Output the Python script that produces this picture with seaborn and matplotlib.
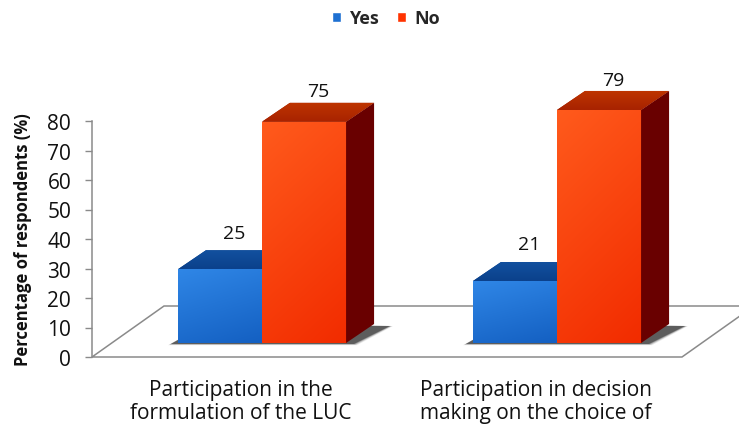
import numpy as np
import pandas as pd
import matplotlib
matplotlib.use("Agg")
import matplotlib.pyplot as plt
from matplotlib.patches import Polygon, Patch
from matplotlib.colors import LinearSegmentedColormap
import seaborn as sns

# ---- data -------------------------------------------------------------
items = ["Participation in the\nformulation of the LUC",
         "Participation in decision\nmaking on the choice of"]
responses = ["Yes", "No"]
yes_pct = [25, 21]
no_pct = [75, 79]
y_ticks = list(range(0, 81, 10))

df = pd.DataFrame({
    "item": items * 2,
    "response": ["Yes"] * len(items) + ["No"] * len(items),
    "pct": yes_pct + no_pct,
})

# ---- style ------------------------------------------------------------
sns.set_theme(style="white")
plt.rcParams["font.family"] = ["Open Sans", "DejaVu Sans"]

W, H, DPI = 739, 427, 100
fig = plt.figure(figsize=(W / DPI, H / DPI), dpi=DPI)
fig.patch.set_facecolor("white")

# pseudo-3D geometry (pixels, measured from the top-left of the canvas)
BASE_PY = 344          # baseline of the bar front faces
PX_PER_PCT = 2.95      # vertical scale
CAT0_PX, CAT_STEP = 262, 295
DEPTH = (28, 19)       # bar depth vector (right, up)
FLOOR_DEPTH = (72, 51)
FLOOR_FRONT_PY = 358
FLOOR_LEFT_PX, FLOOR_RIGHT_PX = 92, 682


def dx(p):
    return p / CAT_STEP


def dy(p):
    return p / PX_PER_PCT


def px2x(p):
    return (p - CAT0_PX) / CAT_STEP


def py2y(p):
    return (BASE_PY - p) / PX_PER_PCT


# ---- main axes holding the bars ---------------------------------------
ax = fig.add_axes([0, 0, 1, 1])
front_colors = {"Yes": "#1e70d2", "No": "#ff3300"}
sns.barplot(data=df, x="item", y="pct", hue="response", hue_order=responses,
            palette=front_colors, width=0.57, saturation=1, ax=ax,
            legend=False, linewidth=0, zorder=3)
ax.set_xlim(px2x(0), px2x(W))
ax.set_ylim(py2y(H), py2y(0))
ax.axis("off")

# floor
fx0, fx1 = px2x(FLOOR_LEFT_PX), px2x(FLOOR_RIGHT_PX)
fy0 = py2y(FLOOR_FRONT_PY)
fdx, fdy = dx(FLOOR_DEPTH[0]), dy(FLOOR_DEPTH[1])
ax.add_patch(Polygon([(fx0, fy0), (fx1, fy0), (fx1 + fdx, fy0 + fdy), (fx0 + fdx, fy0 + fdy)],
                     closed=True, facecolor="white", edgecolor="#8a8a8a", lw=1.1,
                     zorder=1, clip_on=False))

ddx, ddy = dx(DEPTH[0]), dy(DEPTH[1])

# soft shadows cast on the floor by each pair of bars
bars_yes, bars_no = ax.containers[0], ax.containers[1]
for by, bn in zip(bars_yes, bars_no):
    x0 = by.get_x()
    x1 = bn.get_x() + bn.get_width()
    for k, a in enumerate([0.08, 0.14, 0.22, 0.40]):
        grow = 3 - k
        ax.add_patch(Polygon([(x0 - dx(7 + grow), dy(-1 - grow * 0.4)),
                              (x1 + dx(8 + grow), dy(-1 - grow * 0.4)),
                              (x1 + ddx + dx(16 + grow), ddy - dy(2)),
                              (x0 + ddx, ddy)],
                             closed=True, facecolor="black", edgecolor="none",
                             alpha=a, zorder=2))

face_styles = {
    "Yes": dict(top="#0b418c", side="#08306a", light="#2f86e6", dark="#1460c2"),
    "No": dict(top="#a82300", side="#690000", light="#ff5a1c", dark="#f22c00"),
}
top_light = {"Yes": "#12509e", "No": "#bd3300"}

for cont, resp in zip(ax.containers, responses):
    st = face_styles[resp]
    cmap = LinearSegmentedColormap.from_list(resp, [st["dark"], st["light"]])
    for bar in cont:
        x0, w, h = bar.get_x(), bar.get_width(), bar.get_height()
        # gradient on the front face
        yy = np.linspace(0, 1, 64)[:, None]
        xx = np.linspace(0, 1, 16)[None, :]
        grad = 0.75 * yy + 0.25 * (1 - xx)
        im = ax.imshow(grad, extent=[x0, x0 + w, 0, h], origin="lower", cmap=cmap,
                       aspect="auto", interpolation="bilinear", zorder=3.1)
        im.set_clip_path(bar)
        zf = 2.5 if resp == "Yes" else 3.2
        # top face, slightly lighter towards the back
        top = Polygon([(x0, h), (x0 + w, h), (x0 + w + ddx, h + ddy), (x0 + ddx, h + ddy)],
                      closed=True, facecolor=st["top"], edgecolor="none", zorder=zf)
        ax.add_patch(top)
        tcmap = LinearSegmentedColormap.from_list(resp + "t", [st["top"], top_light[resp]])
        tim = ax.imshow(np.linspace(0, 1, 16)[:, None] * np.ones((1, 4)),
                        extent=[x0, x0 + w + ddx, h, h + ddy], origin="lower", cmap=tcmap,
                        aspect="auto", interpolation="bilinear", zorder=zf + 0.01)
        tim.set_clip_path(top)
        # right side face
        ax.add_patch(Polygon([(x0 + w, 0), (x0 + w + ddx, ddy), (x0 + w + ddx, h + ddy), (x0 + w, h)],
                             closed=True, facecolor=st["side"], edgecolor="none", zorder=zf))

ax.set_xlim(px2x(0), px2x(W))
ax.set_ylim(py2y(H), py2y(0))

# value labels above each bar (gap narrows a little for taller bars)
for cont, vals in zip(ax.containers, [yes_pct, no_pct]):
    for bar, v in zip(cont, vals):
        cx = bar.get_x() + bar.get_width() / 2 + ddx / 2
        gap_px = 20.5 - 0.12 * v
        ax.text(cx, v + ddy + dy(gap_px), f"{v}", ha="center", va="center",
                fontsize=14, color="#111111", zorder=5)

# category labels under the floor
for i, lab in enumerate(items):
    ax.text(i - dx(21), py2y(402), lab, ha="center", va="center",
            fontsize=15, linespacing=1.08, color="#111111")

# ---- value axis drawn on the front edge of the floor ------------------
top_py = FLOOR_FRONT_PY - 80 * PX_PER_PCT
ax_y = fig.add_axes([FLOOR_LEFT_PX / W, (H - FLOOR_FRONT_PY) / H, 1e-4,
                     (FLOOR_FRONT_PY - top_py) / H])
ax_y.set_facecolor("none")
ax_y.set_ylim(0, 80)
ax_y.set_yticks(y_ticks)
ax_y.set_xticks([])
for s in ["top", "right", "bottom"]:
    ax_y.spines[s].set_visible(False)
ax_y.spines["left"].set_color("#8a8a8a")
ax_y.spines["left"].set_linewidth(1.1)
ax_y.tick_params(axis="y", left=True, length=5, width=1, color="#8a8a8a",
                 labelsize=15, pad=10, labelcolor="#111111")
ax_y.set_ylabel("Percentage of respondents (%)", fontsize=12, fontweight="bold",
                color="#111111")
ax_y.yaxis.set_label_coords(32 / W, (H - 240) / H, transform=fig.transFigure)

# ---- legend -----------------------------------------------------------
handles = [Patch(facecolor=front_colors[r], label=r) for r in responses]
fig.legend(handles=handles, loc="center", bbox_to_anchor=(386 / W, 1 - 19.5 / H),
           ncol=2, frameon=False, prop=dict(size=13, weight="bold"),
           handlelength=0.5, handleheight=0.5, handletextpad=0.45,
           columnspacing=1.0)

fig.savefig("out.png", dpi=DPI, facecolor="white")
